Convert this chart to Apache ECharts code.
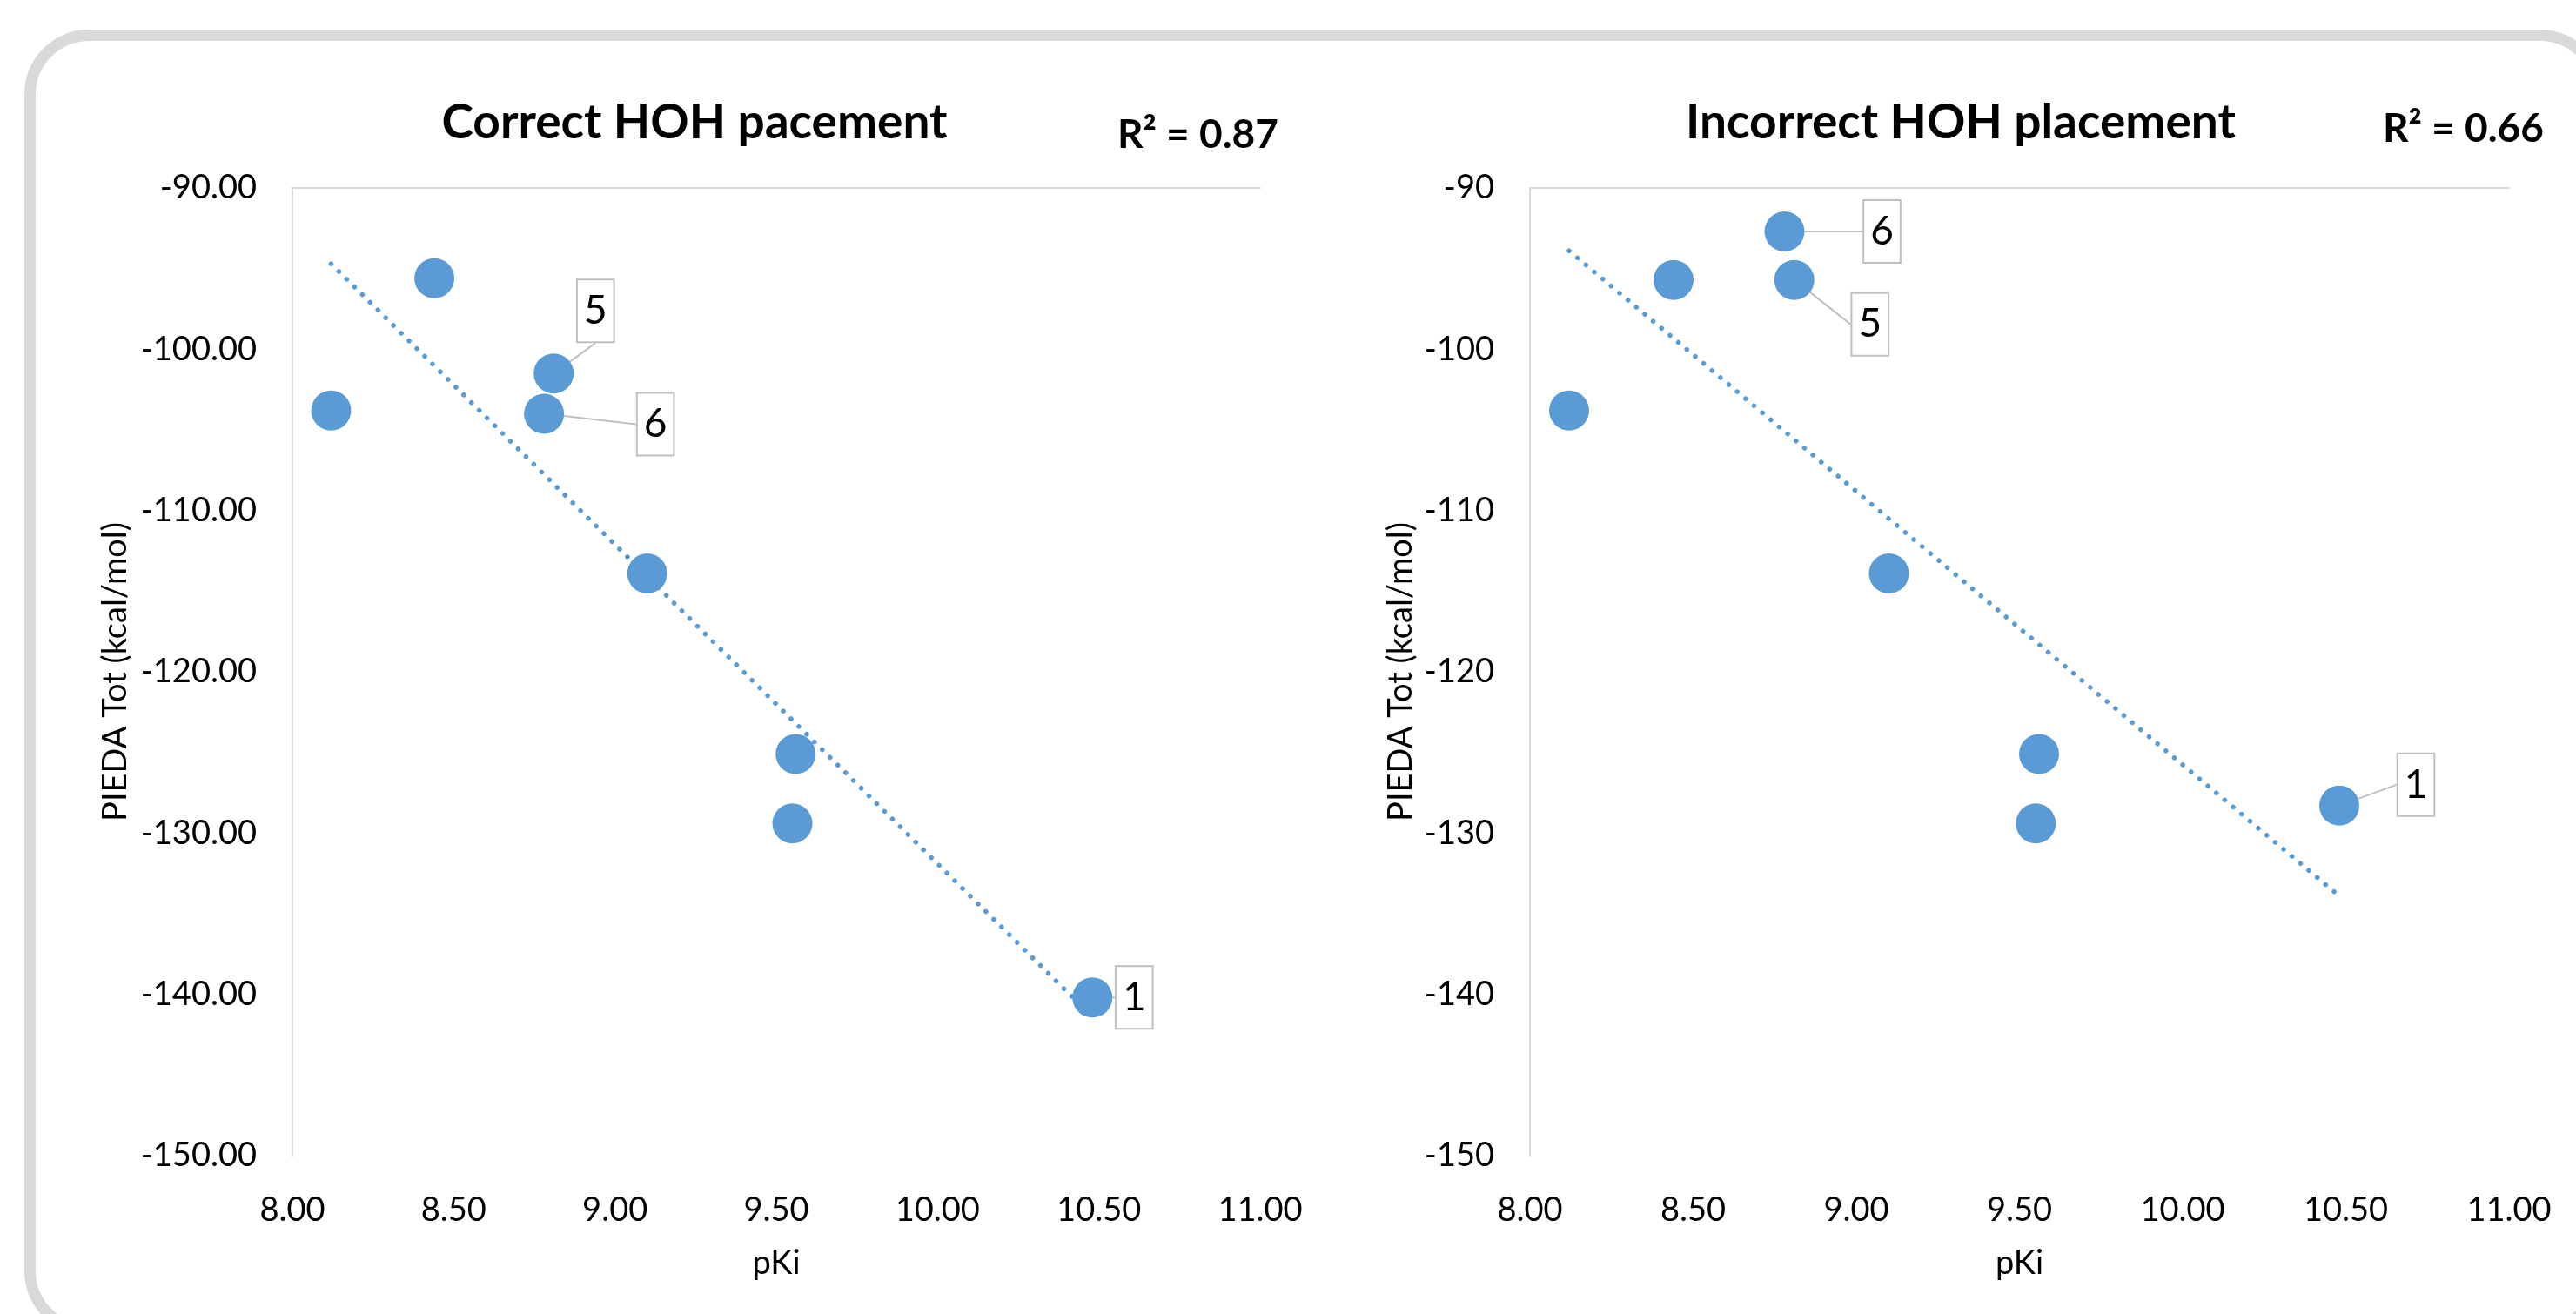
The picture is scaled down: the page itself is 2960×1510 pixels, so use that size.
<!DOCTYPE html>
<html>
<head>
<meta charset="utf-8">
<script src="https://cdn.jsdelivr.net/npm/echarts/dist/echarts.min.js"></script>
<style>
html,body{margin:0;padding:0;background:#fff;}
#chart{width:2960px;height:1510px;}
</style>
</head>
<body>
<div id="chart"></div>
<script>
// ---- data ----
const pKi          = [8.12, 8.44, 8.81, 8.78, 9.10, 9.56, 9.55, 10.48];
const totCorrect   = [-103.8, -95.6, -101.5, -104.0, -113.9, -125.1, -129.4, -140.2];
const totIncorrect = [-103.8, -95.7, -95.7, -92.7, -113.9, -125.1, -129.4, -128.3];
const pointLabels  = ['', '', '5', '6', '', '', '', '1'];
const trendCorrect   = [[8.12, -94.7], [10.48, -141.4]];
const trendIncorrect = [[8.12, -93.9], [10.48, -133.9]];
const xTickLabels = ['8.00', '8.50', '9.00', '9.50', '10.00', '10.50', '11.00'];
const yTicksLeft  = ['-150.00', '-140.00', '-130.00', '-120.00', '-110.00', '-100.00', '-90.00'];
const yTicksRight = ['-150', '-140', '-130', '-120', '-110', '-100', '-90'];
const titles = ['Correct HOH pacement', 'Incorrect HOH placement'];
const r2Texts = ['R² = 0.87', 'R² = 0.66'];
const xName = 'pKi';
const yName = 'PIEDA Tot (kcal/mol)';

// ---- styles / layout ----
const FONT = 'Lato';
const BLUE = '#5b9bd5';
const AX = '#d9d9d9';
const calloutLeft  = {2: [48, -72], 3: [128, 12], 7: [48, 0]};
const calloutRight = {2: [87, 51], 3: [112, 0], 7: [88, -24]};

const chart = echarts.init(document.getElementById('chart'), null, {renderer: 'canvas'});

function xAxes(grid) {
  return [
    {
      type: 'value', gridIndex: grid, position: 'bottom', min: 8, max: 11, interval: 0.5,
      axisLine: {show: false}, axisTick: {show: false}, splitLine: {show: false},
      axisLabel: {
        margin: 44, fontFamily: FONT, fontSize: 38, color: '#000',
        formatter: v => xTickLabels[Math.round((v - 8) / 0.5)]
      },
      name: xName, nameLocation: 'middle', nameGap: 105,
      nameTextStyle: {fontFamily: FONT, fontSize: 38, color: '#000'}
    },
    {
      type: 'value', gridIndex: grid, position: 'top', min: 8, max: 11, interval: 0.5,
      axisLine: {show: true, lineStyle: {color: AX, width: 2}},
      axisTick: {show: false}, axisLabel: {show: false}, splitLine: {show: false}
    }
  ];
}
function yAxis(grid, labels, gap) {
  return {
    type: 'value', gridIndex: grid, min: -150, max: -90, interval: 10,
    axisLine: {show: true, lineStyle: {color: AX, width: 2}},
    axisTick: {show: false}, splitLine: {show: false},
    axisLabel: {
      margin: 41, fontFamily: FONT, fontSize: 38, color: '#000',
      formatter: v => labels[Math.round((v + 150) / 10)]
    },
    name: yName, nameLocation: 'middle', nameGap: gap,
    nameTextStyle: {fontFamily: FONT, fontSize: 38, color: '#000'}
  };
}
function scatter(xi, yi, values, offsets) {
  return {
    type: 'scatter', xAxisIndex: xi, yAxisIndex: yi, z: 3,
    symbol: 'circle', symbolSize: 46,
    itemStyle: {color: BLUE, opacity: 1},
    data: pKi.map((x, i) => ({
      value: [x, values[i]],
      label: {show: pointLabels[i] !== '', formatter: pointLabels[i]}
    })),
    label: {
      show: false, position: 'inside', fontFamily: FONT, fontSize: 46, color: '#000',
      backgroundColor: '#fff', borderColor: '#bfbfbf', borderWidth: 2,
      padding: [8, 7], lineHeight: 54
    },
    labelLine: {show: true, lineStyle: {color: '#bfbfbf', width: 2}},
    labelLayout: p => {
      const o = offsets[p.dataIndex];
      return o ? {dx: o[0], dy: o[1]} : {};
    },
    emphasis: {disabled: true}
  };
}
function trend(xi, yi, pts) {
  return {
    type: 'line', xAxisIndex: xi, yAxisIndex: yi, z: 2,
    data: pts, showSymbol: false, symbol: 'none', silent: true,
    lineStyle: {color: BLUE, width: 5.5, type: [0.1, 12.5], cap: 'round'},
    emphasis: {disabled: true}
  };
}
function txt(x, y, text, size, bold, align) {
  return {
    type: 'text', x: x, y: y, silent: true,
    style: {
      text: text, fill: '#000', align: align, verticalAlign: 'middle',
      font: (bold ? 'bold ' : '') + size + 'px ' + FONT
    }
  };
}

const option = {
  backgroundColor: '#fff',
  animation: false,
  grid: [
    {left: 336, top: 216, width: 1112, height: 1112},
    {left: 1758, top: 216, width: 1125, height: 1112}
  ],
  xAxis: [...xAxes(0), ...xAxes(1)],
  yAxis: [yAxis(0, yTicksLeft, 184), yAxis(1, yTicksRight, 129)],
  series: [
    trend(0, 0, trendCorrect),
    scatter(0, 0, totCorrect, calloutLeft),
    trend(2, 1, trendIncorrect),
    scatter(2, 1, totIncorrect, calloutRight)
  ],
  graphic: [
    {
      type: 'rect', silent: true, z: -10,
      shape: {x: 34.5, y: 40.5, width: 2952, height: 1488, r: 68},
      style: {fill: 'none', stroke: '#d9d9d9', lineWidth: 13}
    },
    txt(798, 141, titles[0], 55, true, 'center'),
    txt(2253, 141, titles[1], 55, true, 'center'),
    txt(1284, 155, r2Texts[0], 46, true, 'left'),
    txt(2738, 148, r2Texts[1], 46, true, 'left')
  ]
};
chart.setOption(option);
</script>
</body>
</html>
